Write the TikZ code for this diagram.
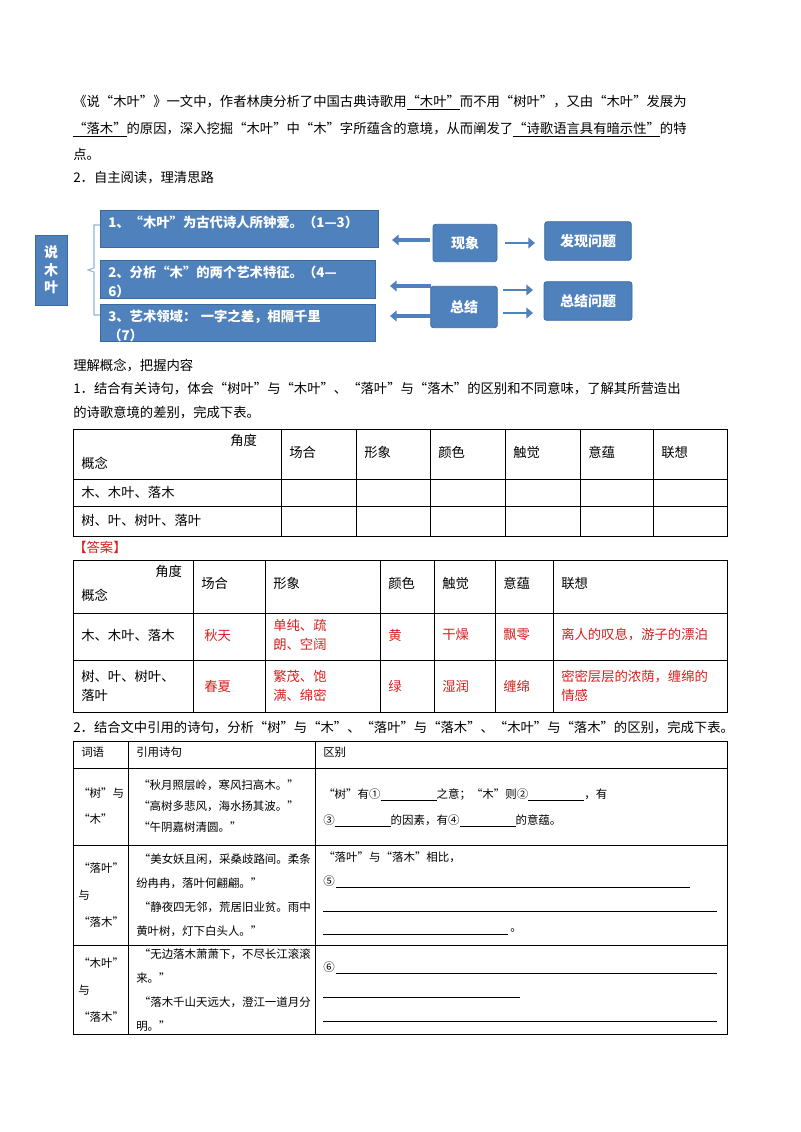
\documentclass[tikz,border=0pt]{standalone}
\usepackage{fontspec}
\setmainfont{Noto Sans CJK SC}
\usetikzlibrary{arrows.meta}
\definecolor{bx}{HTML}{4F81BD}
\definecolor{bxd}{HTML}{3B6A9F}
\definecolor{ans}{HTML}{D42020}
\begin{document}
\begin{tikzpicture}[x=0.75pt,y=-0.75pt,
  t/.style={anchor=west,inner sep=0pt,font=\fontsize{10}{12}\selectfont},
  s/.style={anchor=west,inner sep=0pt,font=\fontsize{8.6}{10}\selectfont,align=left},
  r/.style={t,text=ans},
  blk/.style={fill=bx,draw=bxd,line width=0.6pt,text=white,font=\fontsize{10.5}{12}\selectfont\bfseries,inner sep=0pt},
  bt/.style={anchor=north west,text=white,font=\fontsize{10}{14}\selectfont\bfseries,inner sep=0pt,text width=194pt,align=left},
  arr/.style={draw=bx,line width=3pt,-{Triangle[length=5pt,width=8pt]}},
  ln/.style={line width=0.5pt}]
\useasboundingbox (0,0) rectangle (800,1132);
\fill[white] (0,0) rectangle (800,1132);
% paragraph
\node[t] (p1) at (73,103) {《说“木叶”》一文中，作者林庚分析了中国古典诗歌用\underline{“木叶”}而不用“树叶”，又由“木叶”发展为};
\node[t] (p2) at (73,130) {\underline{“落木”}的原因，深入挖掘“木叶”中“木”字所蕴含的意境，从而阐发了\underline{“诗歌语言具有暗示性”}的特};
\node[t] (p3) at (73,154) {点。};
\node[t] (p4) at (73,178) {2．自主阅读，理清思路};
% diagram
\fill[bx,draw=bxd] (35,235) rectangle (67,305);
\node[text=white,font=\fontsize{10.5}{13}\selectfont\bfseries,align=center,inner sep=0pt] (tt) at (51,270) {说\\木\\叶};
\draw[bx!60,line width=0.8pt] (100,225) -- (94,225) -- (94,268) -- (88,270) -- (94,272) -- (94,315) -- (100,315);
\fill[bx,draw=bxd] (100,210) rectangle (378,247);
\node[bt] (b1) at (108,216) {1、“木叶”为古代诗人所钟爱。（1—3）};
\fill[bx,draw=bxd] (100,260) rectangle (375,298);
\begin{scope}
\clip (100,260) rectangle (375,298);
\node[bt,text width=192pt] (b2) at (108,266) {2、分析“木”的两个艺术特征。（4—\\6）};
\end{scope}
\fill[bx,draw=bxd] (100,304) rectangle (375,341);
\begin{scope}
\clip (100,304) rectangle (375,341);
\node[bt] (b3) at (108,310) {3、艺术领域：\ 一字之差，相隔千里\\（7）};
\end{scope}
\node[blk,minimum width=48pt,minimum height=28pt,rounded corners=2pt] (xx) at (465,243) {现象};
\node[blk,minimum width=65pt,minimum height=29pt,rounded corners=2pt] (fx) at (588,241) {发现问题};
\node[blk,minimum width=50pt,minimum height=31pt,rounded corners=2pt] (zj) at (464,307) {总结};
\node[blk,minimum width=66pt,minimum height=29pt,rounded corners=2pt] (zw) at (588,301) {总结问题};
\coordinate (a1) at (392,240);
\coordinate (a2) at (390,286);
\coordinate (a3) at (390,316);
\draw[arr] (430,240) -- (a1);
\draw[arr] (431,286) -- (a2);
\draw[arr] (431,316) -- (a3);
\draw[arr,line width=2pt] (505,243) -- (535,243);
\draw[arr,line width=2pt] (503,290) -- (533,290);
\draw[arr,line width=2pt] (503,313) -- (533,313);
% section text
\node[t] (s1) at (73,365) {理解概念，把握内容};
\node[t] (s2) at (73,389) {1．结合有关诗句，体会“树叶”与“木叶”、“落叶”与“落木”的区别和不同意味，了解其所营造出};
\node[t] (s3) at (73,413) {的诗歌意境的差别，完成下表。};
% table 1
\draw[ln] (73,429) rectangle (727,536);
\foreach \y in {479,506} \draw[ln] (73,\y) -- (727,\y);
\foreach \x in {281,356,430,505,580,653} \draw[ln] (\x,429) -- (\x,536);
\node[t] (h1) at (230,440) {角度};
\node[t] (h2) at (81,463) {概念};
\foreach \x/\s in {289/场合,364/形象,438/颜色,513/触觉,588/意蕴,661/联想} \node[t] at (\x,452) {\s};
\node[t] (r1) at (81,492) {木、木叶、落木};
\node[t] (r2) at (81,520) {树、叶、树叶、落叶};
\node[t,text=ans] (an) at (73,547) {【答案】};
% table 2
\draw[ln] (73,560) rectangle (727,712);
\foreach \y in {613,660} \draw[ln] (73,\y) -- (727,\y);
\foreach \x in {193,265,380,434,495,553} \draw[ln] (\x,560) -- (\x,712);
\node[t] (k1) at (155,571) {角度};
\node[t] (k2) at (81,595) {概念};
\foreach \x/\s in {201/场合,273/形象,388/颜色,442/触觉,503/意蕴,561/联想} \node[t] at (\x,583) {\s};
\node[t] at (81,635) {木、木叶、落木};
\node[r] at (204,635) {秋天};
\node[r,align=left] at (273,635) {单纯、疏\\[2pt]朗、空阔};
\node[r] at (388,635) {黄};
\node[r] at (442,635) {干燥};
\node[r] at (503,635) {飘零};
\node[r] at (561,635) {离人的叹息，游子的漂泊};
\node[t,align=left] at (81,686) {树、叶、树叶、\\[2pt]落叶};
\node[r] at (204,686) {春夏};
\node[r,align=left] at (273,686) {繁茂、饱\\[2pt]满、绵密};
\node[r] at (388,686) {绿};
\node[r] at (442,686) {湿润};
\node[r] at (503,686) {缠绵};
\node[r,align=left] at (561,686) {密密层层的浓荫，缠绵的\\[2pt]情感};
\node[t] (s4) at (73,728) {2．结合文中引用的诗句，分析“树”与“木”、“落叶”与“落木”、“木叶”与“落木”的区别，完成下表。};
% table 3
\draw[ln] (73,741) rectangle (727,1034);
\foreach \y in {768,845,945} \draw[ln] (73,\y) -- (727,\y);
\foreach \x in {128,315} \draw[ln] (\x,741) -- (\x,1034);
\node[s] at (81,752) {词语};
\node[s] at (136,752) {引用诗句};
\node[s] at (323,752) {区别};
\node[s] at (78,806) {“树”与\\[10pt]“木”};
\node[s] at (138,806) {“秋月照层岭，寒风扫高木。”\\[6pt]“高树多悲风，海水扬其波。”\\[6pt]“午阴嘉树清圆。”};
\node[s] at (323,808) {“树”有①\underline{\hspace{42pt}}之意；“木”则②\underline{\hspace{42pt}}，有\\[9pt]③\underline{\hspace{42pt}}的因素，有④\underline{\hspace{42pt}}的意蕴。};
\node[s] at (78,895) {“落叶”\\[10pt]与\\[10pt]“落木”};
\node[s] at (136,895) {\ “美女妖且闲，采桑歧路间。柔条\\[8pt]纷冉冉，落叶何翩翩。”\\[8pt]\ “静夜四无邻，荒居旧业贫。雨中\\[8pt]黄叶树，灯下白头人。”};
\node[s] at (323,857) {“落叶”与“落木”相比，};
\node[s] at (323,881) {⑤};
\draw[ln] (336,887) -- (690,887);
\draw[ln] (323,911) -- (717,911);
\draw[ln] (323,934) -- (508,934);
\node[s] at (510,930) {。};
\node[s] at (78,990) {“木叶”\\[10pt]与\\[10pt]“落木”};
\node[s] at (136,990) {\ “无边落木萧萧下，不尽长江滚滚\\[8pt]来。”\\[8pt]\ “落木千山天远大，澄江一道月分\\[8pt]明。”};
\node[s] at (323,967) {⑥};
\draw[ln] (336,973) -- (717,973);
\draw[ln] (323,997) -- (520,997);
\draw[ln] (323,1021) -- (717,1021);
\end{tikzpicture}
\end{document}
